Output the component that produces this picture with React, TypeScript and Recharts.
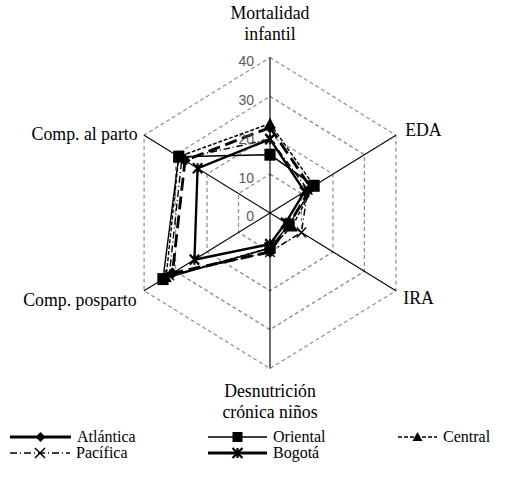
import React from "react"
import {
  RadarChart,
  Radar,
  PolarGrid,
  PolarAngleAxis,
  PolarRadiusAxis,
} from "recharts"

const categories = [
  "Mortalidad infantil",
  "EDA",
  "IRA",
  "Desnutrición crónica niños",
  "Comp. posparto",
  "Comp. al parto",
]

const atlantica = [22, 13, 6, 10, 31, 27]
const oriental = [15, 14, 6, 9, 34, 29]
const central = [23, 14, 7, 9, 33, 29]
const pacifica = [19, 12, 10, 10, 32, 28]
const bogota = [19, 11, 5, 8, 24, 23]

const radiusTicks = [0, 10, 20, 30, 40]

const data = categories.map((c, i) => ({
  category: c,
  atlantica: atlantica[i],
  oriental: oriental[i],
  central: central[i],
  pacifica: pacifica[i],
  bogota: bogota[i],
}))

const serif = "Liberation Serif, DejaVu Serif, serif"

// marker shapes
const Diamond = ({ cx, cy, s = 6 }: any) => (
  <path d={`M${cx},${cy - s}L${cx + s},${cy}L${cx},${cy + s}L${cx - s},${cy}Z`} fill="#000" />
)
const Square = ({ cx, cy, s = 6 }: any) => (
  <rect x={cx - s} y={cy - s} width={s * 2} height={s * 2} fill="#000" />
)
const Triangle = ({ cx, cy, s = 6 }: any) => (
  <path d={`M${cx},${cy - s}L${cx + s},${cy + s * 0.8}L${cx - s},${cy + s * 0.8}Z`} fill="#000" />
)
const Cross = ({ cx, cy, s = 5 }: any) => (
  <path d={`M${cx - s},${cy - s}L${cx + s},${cy + s}M${cx - s},${cy + s}L${cx + s},${cy - s}`} stroke="#000" strokeWidth={1.5} fill="none" />
)
const Star = ({ cx, cy, s = 5 }: any) => (
  <path
    d={`M${cx - s},${cy - s}L${cx + s},${cy + s}M${cx - s},${cy + s}L${cx + s},${cy - s}M${cx},${cy - s}L${cx},${cy + s}`}
    stroke="#000"
    strokeWidth={2.2}
    fill="none"
  />
)

const labelPos: Record<string, { dx: number; dy: number; anchor: string; lines: string[] }> = {
  "Mortalidad infantil": { dx: 0, dy: -30, anchor: "middle", lines: ["Mortalidad", "infantil"] },
  EDA: { dx: 3, dy: 5, anchor: "start", lines: ["EDA"] },
  IRA: { dx: 1, dy: 9, anchor: "start", lines: ["IRA"] },
  "Desnutrición crónica niños": { dx: 0, dy: 21, anchor: "middle", lines: ["Desnutrición", "crónica niños"] },
  "Comp. posparto": { dx: -1, dy: 11, anchor: "end", lines: ["Comp. posparto"] },
  "Comp. al parto": { dx: 0, dy: 9, anchor: "end", lines: ["Comp. al parto"] },
}

const AngleTick = ({ x, y, payload }: any) => {
  const p = labelPos[payload.value]
  return (
    <text x={x + p.dx} y={y + p.dy} textAnchor={p.anchor} fontFamily={serif} fontSize={19} fill="#000">
      {p.lines.map((l, i) => (
        <tspan key={i} x={x + p.dx} dy={i === 0 ? 0 : 21} fontFamily={serif}>
          {l}
        </tspan>
      ))}
    </text>
  )
}

const RadiusTick = ({ x, y, payload }: any) => (
  <text x={x - 17} y={y + 8.5} textAnchor="end" fontFamily="Liberation Sans, Arial, sans-serif" fontSize={15} fill="#595959">
    {payload.value}
  </text>
)

const legendRows = [
  { name: "Atlántica", x: 10, y: 437, w: 61, width: 3, dash: undefined, Mark: Diamond },
  { name: "Oriental", x: 208, y: 437, w: 59, width: 1.5, dash: undefined, Mark: Square },
  { name: "Central", x: 398, y: 437, w: 39, width: 1.5, dash: "4 2", Mark: Triangle },
  { name: "Pacífica", x: 10, y: 453, w: 60, width: 1.5, dash: "7 3 1 3", Mark: Cross },
  { name: "Bogotá", x: 208, y: 453, w: 59, width: 3, dash: undefined, Mark: Star },
]

export default function App() {
  return (
    <div style={{ position: "absolute", left: 0, top: 0, width: 526, height: 481, background: "#fff" }}>
      <div style={{ transform: "scaleX(0.935)", transformOrigin: "270px 0", width: 526, height: 481 }}>
        <RadarChart
          width={526}
          height={481}
          data={data}
          cx={270}
          cy={213}
          outerRadius={155.5}
          margin={{ top: 0, right: 0, bottom: 0, left: 0 }}
        >
          <PolarGrid gridType="polygon" radialLines={false} stroke="#8c8c8c" strokeWidth={1.3} strokeDasharray="4 3" />
          <PolarGrid gridType="polygon" radialLines={true} polarRadius={[]} stroke="#000" strokeWidth={1.2} />
          <PolarAngleAxis dataKey="category" tick={<AngleTick />} tickLine={false} axisLine={false} />
          <PolarRadiusAxis
            angle={90}
            domain={[0, 40]}
            ticks={radiusTicks as any}
            tickCount={5}
            axisLine={false}
            tick={<RadiusTick />}
          />
          <Radar
            dataKey="atlantica"
            stroke="#000"
            strokeWidth={3}
            strokeDasharray="13 6"
            fill="none"
            fillOpacity={0}
            dot={(p: any) => <Diamond key={`a${p.index}`} cx={p.cx} cy={p.cy} />}
            isAnimationActive={false}
          />
          <Radar
            dataKey="oriental"
            stroke="#000"
            strokeWidth={1.5}
            fill="none"
            fillOpacity={0}
            dot={(p: any) => <Square key={`o${p.index}`} cx={p.cx} cy={p.cy} />}
            isAnimationActive={false}
          />
          <Radar
            dataKey="central"
            stroke="#000"
            strokeWidth={1.5}
            strokeDasharray="4 2"
            fill="none"
            fillOpacity={0}
            dot={(p: any) => <Triangle key={`c${p.index}`} cx={p.cx} cy={p.cy} />}
            isAnimationActive={false}
          />
          <Radar
            dataKey="pacifica"
            stroke="#000"
            strokeWidth={1.5}
            strokeDasharray="7 3 1 3"
            fill="none"
            fillOpacity={0}
            dot={(p: any) => <Cross key={`p${p.index}`} cx={p.cx} cy={p.cy} />}
            isAnimationActive={false}
          />
          <Radar
            dataKey="bogota"
            stroke="#000"
            strokeWidth={2.5}
            fill="none"
            fillOpacity={0}
            dot={(p: any) => <Star key={`b${p.index}`} cx={p.cx} cy={p.cy} />}
            isAnimationActive={false}
          />
        </RadarChart>
      </div>
      <svg width={526} height={481} style={{ position: "absolute", left: 0, top: 0, pointerEvents: "none" }}>
        {legendRows.map((r) => (
          <g key={r.name}>
            <line x1={r.x} y1={r.y} x2={r.x + r.w} y2={r.y} stroke="#000" strokeWidth={r.width} strokeDasharray={r.dash} />
            <r.Mark cx={r.x + r.w / 2} cy={r.y} s={5} />
            <text x={r.x + r.w + 6} y={r.y + 5} fontFamily={serif} fontSize={16} fill="#000">
              {r.name}
            </text>
          </g>
        ))}
      </svg>
    </div>
  )
}
